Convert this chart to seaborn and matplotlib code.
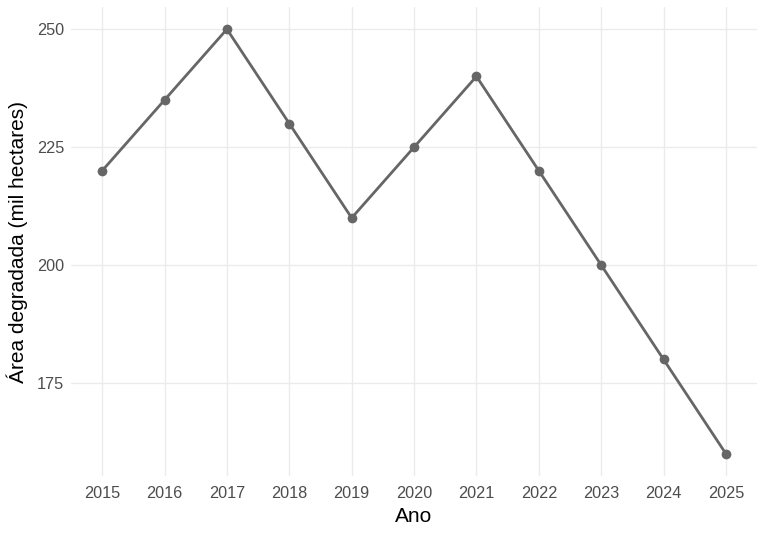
import pandas as pd
import seaborn as sns
import matplotlib.pyplot as plt

anos = [2015, 2016, 2017, 2018, 2019, 2020, 2021, 2022, 2023, 2024, 2025]
area = [220, 235, 250, 230, 210, 225, 240, 220, 200, 180, 160]
y_ticks = [175, 200, 225, 250]


def main():
    df = pd.DataFrame({'Ano': anos, 'Area': area})

    sns.set_style('white')
    plt.rcParams['font.family'] = ['Liberation Sans', 'DejaVu Sans']

    fig = plt.figure(figsize=(7.68, 5.36), dpi=100)
    ax = fig.add_axes([0.0924, 0.1119, 0.8935, 0.875])

    sns.lineplot(data=df, x='Ano', y='Area', color='#666666',
                 linewidth=2, marker='o', markersize=7,
                 markeredgewidth=0, ax=ax)

    ax.set_xlim(2014.5, 2025.5)
    ax.set_ylim(155.3, 254.7)
    ax.set_xticks(anos)
    ax.set_yticks(y_ticks)
    ax.grid(True, color='#ebebeb', linewidth=1)
    ax.set_axisbelow(True)
    for s in ax.spines.values():
        s.set_visible(False)
    ax.tick_params(axis='x', length=0, labelsize=11.7, labelcolor='#4d4d4d', pad=7.5)
    ax.tick_params(axis='y', length=0, labelsize=11.7, labelcolor='#4d4d4d', pad=5)

    ax.set_xlabel('Ano', fontsize=15, color='black', labelpad=4)
    ax.set_ylabel('Área degradada (mil hectares)', fontsize=15,
                  color='black', labelpad=6)

    fig.savefig('out.png', dpi=100)
    plt.close(fig)


if __name__ == '__main__':
    main()
